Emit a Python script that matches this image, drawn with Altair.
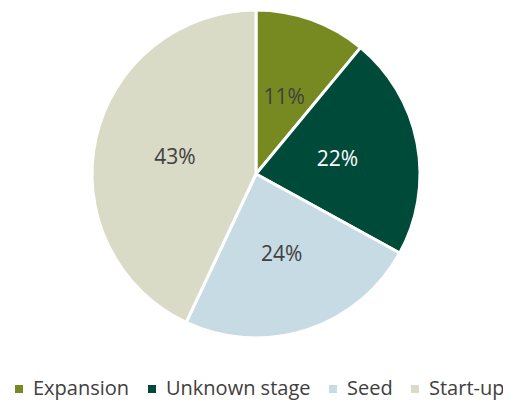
import altair as alt
import pandas as pd

stages = ["Expansion", "Unknown stage", "Seed", "Start-up"]
shares = [11, 22, 24, 43]
labels = ["11%", "22%", "24%", "43%"]
colors = ["#778a22", "#004a3a", "#c6dbe4", "#d9dbc7"]
label_colors = ["#404040", "#ffffff", "#404040", "#404040"]

df = pd.DataFrame({
    "stage": stages,
    "share": shares,
    "label": labels,
    "tcolor": label_colors,
    "idx": list(range(len(stages))),
})

base = alt.Chart(df).encode(
    theta=alt.Theta("share:Q", stack=True),
    order=alt.Order("idx:Q"),
)

color = alt.Color(
    "stage:N",
    scale=alt.Scale(domain=stages, range=colors),
    sort=stages,
    legend=alt.Legend(
        title=None,
        orient="none",
        direction="horizontal",
        legendX=1,
        legendY=371,
        symbolType="square",
        symbolSize=64,
        symbolStrokeWidth=0,
        labelFont="Open Sans",
        labelFontSize=20,
        labelColor="#404040",
        labelOffset=4,
        columnPadding=12,
        labelLimit=300,
    ),
)

pie = base.mark_arc(outerRadius=164, stroke="white", strokeWidth=3).encode(
    color=color,
    x=alt.value(248),
    y=alt.value(166),
)

text = base.mark_text(radius=83, font="Open Sans", fontSize=21).encode(
    text="label:N",
    color=alt.Color("tcolor:N", scale=None),
    x=alt.value(248),
    y=alt.value(168),
)

chart = (
    alt.layer(pie, text)
    .properties(width=495, height=393, padding=0, autosize=alt.AutoSizeParams(type="none"))
    .configure_view(stroke=None)
)

chart.save("out.html", embed_options={"renderer": "svg", "actions": False})
